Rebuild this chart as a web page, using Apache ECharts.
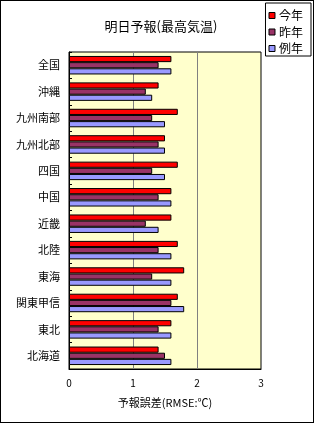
<!DOCTYPE html>
<html>
<head>
<meta charset="utf-8">
<script src="https://cdn.jsdelivr.net/npm/echarts@6/dist/echarts.min.js"></script>
<style>
html, body { margin: 0; padding: 0; background: #fff; }
#chart { width: 314px; height: 423px; box-sizing: border-box; border: 1px solid #000; }
</style>
</head>
<body>
<div id="chart"></div>
<script>
// 地域 (上から順)
const regions = ['全国', '沖縄', '九州南部', '九州北部', '四国', '中国', '近畿', '北陸', '東海', '関東甲信', '東北', '北海道'];
const thisYear = [1.6, 1.4, 1.7, 1.5, 1.7, 1.6, 1.6, 1.7, 1.8, 1.7, 1.6, 1.4];
const lastYear = [1.4, 1.2, 1.3, 1.4, 1.3, 1.4, 1.2, 1.4, 1.3, 1.6, 1.4, 1.5];
const normalYear = [1.6, 1.3, 1.5, 1.5, 1.5, 1.6, 1.4, 1.6, 1.6, 1.8, 1.6, 1.6];
const xTicks = [0, 1, 2, 3];

const font = '"Noto Sans CJK JP", sans-serif';
const chart = echarts.init(document.getElementById('chart'));

const mk = (name, data, color) => ({
  name: name,
  type: 'bar',
  data: data,
  barGap: '0%',
  barCategoryGap: '30%',
  itemStyle: { color: color, borderColor: '#000', borderWidth: 1 },
  animation: false
});

chart.setOption({
  backgroundColor: '#fff',
  title: {
    text: '明日予報(最高気温)',
    left: 155, top: 14, textAlign: 'center',
    textStyle: { fontFamily: font, fontSize: 13, fontWeight: 'normal', color: '#000' }
  },
  legend: {
    orient: 'vertical',
    right: 2, top: 2,
    padding: [6, 8, 1, 3],
    borderColor: '#000', borderWidth: 1,
    itemWidth: 6, itemHeight: 6, itemGap: 3.5,
    icon: 'rect',
    textStyle: { fontFamily: font, fontSize: 12, lineHeight: 13, color: '#000', padding: [0, 0, 0, -1] },
    data: ['今年', '昨年', '例年'],
    itemStyle: { borderColor: '#000', borderWidth: 1 }
  },
  grid: {
    left: 68, right: 52, top: 51, bottom: 53,
    show: true, backgroundColor: '#FFFFCC', borderColor: '#000', borderWidth: 1
  },
  xAxis: {
    type: 'value',
    min: xTicks[0], max: xTicks[xTicks.length - 1], interval: 1,
    name: '予報誤差(RMSE:℃)',
    nameLocation: 'middle', nameGap: 28,
    nameTextStyle: { fontFamily: font, fontSize: 11, color: '#000' },
    axisLine: { show: true, lineStyle: { color: '#000' } },
    axisTick: { show: false },
    axisLabel: { fontFamily: font, fontSize: 10, color: '#000', margin: 9 },
    splitLine: { show: true, lineStyle: { color: '#808080', width: 1 } }
  },
  yAxis: {
    type: 'category',
    data: regions,
    inverse: true,
    axisLine: { show: true, lineStyle: { color: '#000' } },
    axisTick: { show: true, inside: true, length: 3, lineStyle: { color: '#000' } },
    axisLabel: { fontFamily: font, fontSize: 11, color: '#000', margin: 9 }
  },
  series: [
    mk('今年', thisYear, '#FF0000'),
    mk('昨年', lastYear, '#993366'),
    mk('例年', normalYear, '#9999FF')
  ]
});
</script>
</body>
</html>
